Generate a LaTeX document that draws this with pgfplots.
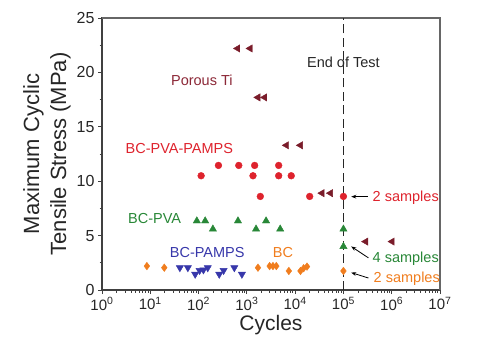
\documentclass[border=0pt]{standalone}
\usepackage{pgfplots}
\pgfplotsset{compat=1.18}
\usepackage{fontspec}
\setmainfont{Liberation Sans}
\usetikzlibrary{arrows.meta}
\definecolor{ti}{RGB}{122,28,42}
\definecolor{tiText}{RGB}{140,40,55}
\definecolor{cred}{RGB}{222,35,45}
\definecolor{cgreen}{RGB}{40,135,55}
\definecolor{cblue}{RGB}{55,55,170}
\definecolor{corange}{RGB}{240,125,30}
\begin{document}
\begin{tikzpicture}
\path[use as bounding box] (-102pt,-55pt) rectangle (387pt,290pt);
\begin{axis}[name=ax,
  scale only axis, width=338pt, height=272pt,
  xmode=log, xmin=1, xmax=1e7, ymin=0, ymax=25,
  xtick={1,10,100,1000,10000,100000,1000000,10000000},
  xticklabels={10\textsuperscript{0},10\textsuperscript{1},10\textsuperscript{2},10\textsuperscript{3},10\textsuperscript{4},10\textsuperscript{5},10\textsuperscript{6},10\textsuperscript{7}},
  ytick={0,5,10,15,20,25}, minor y tick num=1,
  tick align=outside, xtick pos=left, ytick pos=left,
  major tick length=4pt, minor tick length=2.5pt,
  axis line style={line width=1.1pt, black!75},
  every tick/.style={black!75, line width=0.9pt},
  /pgf/number format/assume math mode=true,
  tick label style={font=\fontsize{15}{17}\selectfont, text=black!85},
  yticklabel style={font=\fontsize{16}{18}\selectfont},
  xlabel={Cycles}, ylabel={Maximum Cyclic\\Tensile Stress (MPa)},
  label style={font=\fontsize{21}{25}\selectfont, text=black!85},
  ylabel style={align=center, font=\fontsize{22}{27}\selectfont, yshift=-1pt},
  xlabel style={yshift=2pt},
  clip=false,
]
\draw[black!60, line width=1.1pt] (rel axis cs:0,1) -- (rel axis cs:1,1) -- (rel axis cs:1,0);
\addplot[black!85, dash pattern=on 9pt off 4.5pt, line width=1.3pt] coordinates {(1e5,0) (1e5,25)};
\addplot[only marks, mark=triangle*, mark size=4.2pt, color=ti, mark options={rotate=90, fill=ti}] coordinates {
(645,22.2) (1170,22.2) (1700,17.7) (2340,17.7) (6600,13.3) (12900,13.3) (36000,8.9) (54000,8.9) (290000,4.45) (1020000,4.45)};
\addplot[only marks, mark=*, mark size=3.4pt, color=cred, mark options={fill=cred}] coordinates {
(113,10.5) (258,11.45) (680,11.45) (1340,10.5) (1450,11.45) (1900,8.6) (4560,11.45) (4560,10.5) (8300,10.5) (20000,8.6) (100000,8.6)};
\addplot[only marks, mark=triangle*, mark size=4.2pt, color=cgreen, mark options={fill=cgreen}] coordinates {
(92,6.35) (137,6.35) (198,5.6) (655,6.35) (1550,5.6) (2500,6.35) (4900,5.6) (100000,5.6) (100000,4.0)};
\addplot[only marks, mark=triangle*, mark size=4.2pt, color=cblue, mark options={rotate=180, fill=cblue}] coordinates {
(41,2.05) (60,2.05) (85,1.45) (105,1.8) (126,1.85) (155,2.05) (268,1.45) (330,1.8) (550,2.05) (790,1.45)};
\addplot[only marks, mark=diamond*, mark size=3.8pt, color=corange, mark options={fill=corange}] coordinates {
(8.5,2.2) (19.5,2.05) (1700,2.05) (2960,2.2) (3470,2.2) (4070,2.2) (7400,1.75) (12900,1.75) (15000,2.0) (17600,2.15) (100000,1.75)};
\begin{scope}[font=\fontsize{14.5}{16}\selectfont]
\node[text=black!85] at (axis cs:1e5,20.9) {End of Test};
\node[text=tiText] at (axis cs:117,19.3) {Porous Ti};
\node[text=cred] at (axis cs:40,13.0) {BC-PVA-PAMPS};
\node[text=cgreen] at (axis cs:12.3,6.6) {BC-PVA};
\node[text=cblue] at (axis cs:151,3.47) {BC-PAMPS};
\node[text=corange] at (axis cs:5600,3.47) {BC};
\node[text=cred, anchor=west, inner sep=0pt] at (axis cs:4e5,8.45) {2 samples};
\node[text=cgreen, anchor=west, inner sep=0pt] at (axis cs:4e5,2.9) {4 samples};
\node[text=corange, anchor=west, inner sep=0pt] at (axis cs:4.2e5,1.05) {2 samples};
\end{scope}
\draw[-{Stealth[length=5pt]}, black, line width=0.8pt] (axis cs:3.2e5,8.58) -- (axis cs:1.45e5,8.58);
\draw[-{Stealth[length=5pt]}, black, line width=0.8pt] (axis cs:3.3e5,2.95) -- (axis cs:1.45e5,4.0);
\draw[-{Stealth[length=5pt]}, black, line width=0.8pt] (axis cs:3.3e5,1.1) -- (axis cs:1.45e5,1.6);
\end{axis}
\end{tikzpicture}
\end{document}
